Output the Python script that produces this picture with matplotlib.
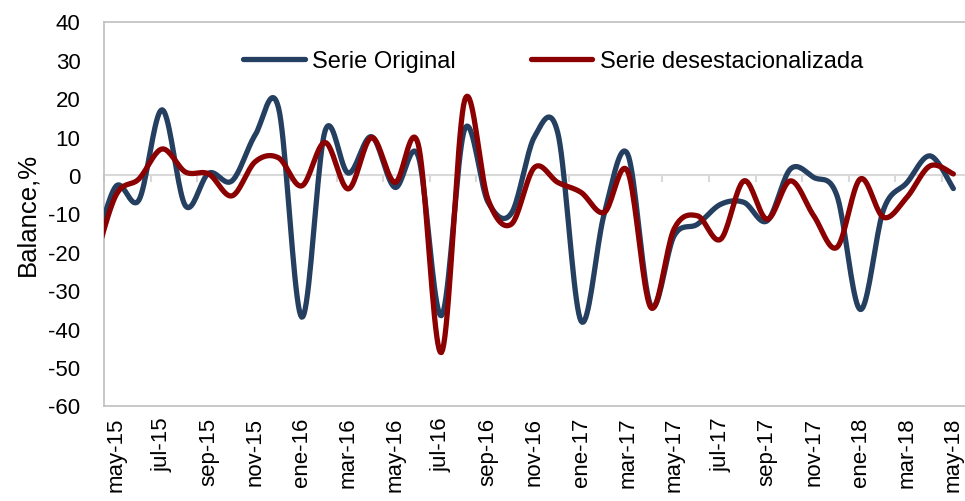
import numpy as np
import matplotlib
matplotlib.use("Agg")
import matplotlib.pyplot as plt

# months, apr-15 (first value, cut by the axis) up to may-18
meses = ['abr-15', 'may-15', 'jun-15', 'jul-15', 'ago-15', 'sep-15', 'oct-15', 'nov-15', 'dic-15',
         'ene-16', 'feb-16', 'mar-16', 'abr-16', 'may-16', 'jun-16', 'jul-16', 'ago-16', 'sep-16',
         'oct-16', 'nov-16', 'dic-16', 'ene-17', 'feb-17', 'mar-17', 'abr-17', 'may-17', 'jun-17',
         'jul-17', 'ago-17', 'sep-17', 'oct-17', 'nov-17', 'dic-17', 'ene-18', 'feb-18', 'mar-18',
         'abr-18', 'may-18']

serie_original = [-22, -3, -6.5, 17, -8, 0.5, -1.5, 10.5, 17.5,
                  -37, 11.5, 0.5, 10, -3.2, 5, -36.6, 12, -7,
                  -10, 10, 11, -38, -10, 5.5, -34, -15.8, -12.8,
                  -7.6, -7.1, -11.9, 1.6, -0.6, -5.4, -35, -9, -2,
                  5, -3.5]

serie_desest = [-25, -5.4, -1, 6.8, 0.8, 0.3, -5.4, 3.5, 4.5,
                -2.8, 8.5, -3.6, 9.8, -1.9, 8.1, -46.2, 19.5, -6.3,
                -12.8, 2, -1.9, -4.5, -9.7, 1, -34.5, -14, -10.6,
                -16.7, -1.5, -11.5, -1.5, -10.6, -18.8, -1, -11, -5.8,
                2.4, 0.3]

azul = '#243F60'
rojo = '#8B0000'
gris = '#BFBFBF'


def suavizar(x, y, n=20):
    # Excel-like smoothed line (uniform Catmull-Rom through the points)
    x = np.asarray(x, float)
    y = np.asarray(y, float)
    px = np.concatenate([[x[0]], x, [x[-1]]])
    py = np.concatenate([[y[0]], y, [y[-1]]])
    xs, ys = [], []
    t = np.linspace(0, 1, n, endpoint=False)
    for i in range(1, len(px) - 2):
        for p, out in ((px, xs), (py, ys)):
            p0, p1, p2, p3 = p[i - 1], p[i], p[i + 1], p[i + 2]
            c1 = p1 + (p2 - p0) / 6
            c2 = p2 - (p3 - p1) / 6
            out.extend((1 - t) ** 3 * p1 + 3 * (1 - t) ** 2 * t * c1 + 3 * (1 - t) * t ** 2 * c2 + t ** 3 * p2)
    xs.append(x[-1])
    ys.append(y[-1])
    return np.array(xs), np.array(ys)


plt.rcParams['font.family'] = ['Liberation Sans', 'DejaVu Sans']
plt.rcParams['axes.unicode_minus'] = False

x = np.arange(len(meses)) - 1  # may-15 -> 0

fig = plt.figure(figsize=(9.65, 5.02), dpi=100)
ax = fig.add_axes([104 / 965, 1 - 406.5 / 502, 1 - 104 / 965, (406.5 - 22.5) / 502])

xs, ys = suavizar(x, serie_original)
ax.plot(xs, ys, color=azul, lw=3.8, solid_capstyle='round', label='Serie Original', zorder=3)
xs, ys = suavizar(x, serie_desest)
ax.plot(xs, ys, color=rojo, lw=3.8, solid_capstyle='round', label='Serie desestacionalizada', zorder=4)

ax.set_xlim(-0.5, len(meses) - 1.5)
ax.set_ylim(-60, 40)
ax.set_yticks(np.arange(-60, 41, 10))
ax.tick_params(axis='y', length=0, labelsize=16, pad=17)

ax.set_xticks(x[1::2])
ax.set_xticklabels(meses[1::2], rotation=90, fontsize=16)
ax.tick_params(axis='x', length=0, pad=8)

ax.set_ylabel('Balance,%', fontsize=18.5, labelpad=6)

for s in ['left', 'top', 'bottom']:
    ax.spines[s].set_color(gris)
    ax.spines[s].set_linewidth(1.2)
ax.spines['right'].set_visible(False)

# zero line with its tick marks
eje0 = ax.secondary_xaxis(0.6)
eje0.set_xticks(np.arange(-0.5, len(meses) - 1.5, 2))
eje0.set_xticklabels([])
eje0.xaxis.set_ticks_position('bottom')
eje0.tick_params(axis='x', length=5, width=1.5, color='#D9D9D9', direction='out')
for s in eje0.spines.values():
    s.set_color('#D9D9D9')
    s.set_linewidth(1.5)
eje0.set_zorder(1)

leg = ax.legend(loc='center', bbox_to_anchor=(553 / 965, 1 - 62 / 502), bbox_transform=fig.transFigure,
                ncol=2, frameon=False, handlelength=2.6, handletextpad=0.3, columnspacing=3.2,
                prop={'family': ['Liberation Sans Narrow', 'Liberation Sans'], 'size': 17})

fig.savefig('out.png', dpi=100)
